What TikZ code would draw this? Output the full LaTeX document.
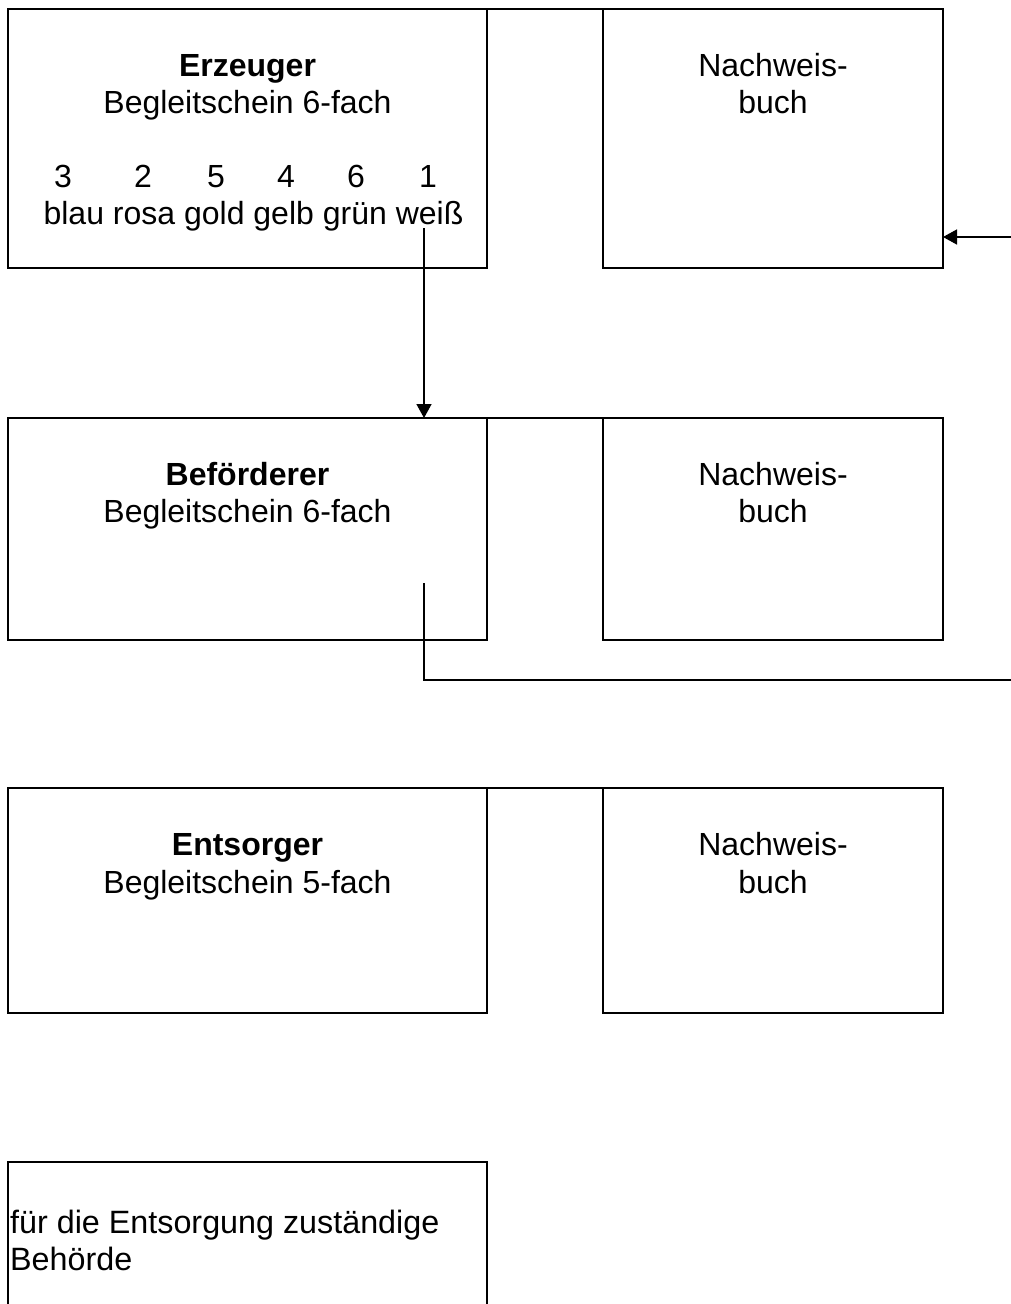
\documentclass[tikz,border=0pt]{standalone}
\usepackage{fontspec}
\setmainfont{Liberation Sans}
\usetikzlibrary{arrows.meta}
\begin{document}
\begin{tikzpicture}[x=1pt,y=-1pt,
  box/.style={draw,line width=2.4pt,rectangle,anchor=north west,inner sep=0pt,outer sep=0pt},
  wbox/.style={box,minimum width=479pt},
  nbox/.style={box,minimum width=340pt},
  frame/.style={line width=2.4pt},
  txt/.style={anchor=base,inner sep=0pt,font=\fontsize{32}{37}\selectfont},
  ttl/.style={anchor=base,inner sep=0pt,font=\fontsize{32}{37}\selectfont\bfseries},
  ltxt/.style={anchor=base west,inner sep=0pt,font=\fontsize{32.3}{37}\selectfont},
  conn/.style={line width=1.5pt},
  arr/.style={conn,-{Triangle[length=14pt,width=15pt]}}]
\useasboundingbox (0,0) rectangle (1011,1304);
% row 1
\node[wbox,minimum height=259pt] (erz) at (8,9) {};
\node[nbox,minimum height=259pt] (nb1) at (603,9) {};
\draw[frame] (erz.north east) -- (nb1.north west);
\node[ttl] (erzT) at (247.5,76) {Erzeuger};
\node[txt] (erzB) at (247.5,113) {Begleitschein 6-fach};
\node[txt] (n3) at (63,187) {3};
\node[txt] (n2) at (143,187) {2};
\node[txt] (n5) at (216,187) {5};
\node[txt] (n4) at (286,187) {4};
\node[txt] (n6) at (356,187) {6};
\node[txt] (n1) at (428,187) {1};
\node[txt] (farb) at (253.5,224) {blau rosa gold gelb grün weiß};
\node[txt] (nb1a) at (773,76) {Nachweis-};
\node[txt] (nb1b) at (773,113) {buch};
% row 2
\node[wbox,minimum height=222pt] (bef) at (8,418) {};
\node[nbox,minimum height=222pt] (nb2) at (603,418) {};
\draw[frame] (bef.north east) -- (nb2.north west);
\node[ttl] (befT) at (247.5,485) {Beförderer};
\node[txt] (befB) at (247.5,522) {Begleitschein 6-fach};
\node[txt] (nb2a) at (773,485) {Nachweis-};
\node[txt] (nb2b) at (773,522) {buch};
% row 3
\node[wbox,minimum height=225pt] (ent) at (8,788) {};
\node[nbox,minimum height=225pt] (nb3) at (603,788) {};
\draw[frame] (ent.north east) -- (nb3.north west);
\node[ttl] (entT) at (247.5,855) {Entsorger};
\node[txt] (entB) at (247.5,893) {Begleitschein 5-fach};
\node[txt] (nb3a) at (773,855) {Nachweis-};
\node[txt] (nb3b) at (773,893) {buch};
% row 4 (open at the bottom)
\node[inner sep=0pt,outer sep=0pt,anchor=north west,minimum width=479pt,minimum height=144pt] (beh) at (8,1162) {};
\coordinate (behBL) at (8,1308);
\coordinate (behBR) at (487,1308);
\draw[frame,line join=miter] (behBL) -- (beh.north west) -- (beh.north east) -- (behBR);
\node[ltxt] (behA) at (10,1233) {für die Entsorgung zuständige};
\node[ltxt] (behB) at (10,1270) {Behörde};
% connectors
\coordinate (a1) at (424,228);
\draw[arr] (a1) -- (a1 |- bef.north);
\coordinate (a2) at (1011,237);
\draw[arr] (a2) -- (nb1.east |- a2);
\coordinate (a3s) at (424,583);
\coordinate (a3k) at (424,680);
\coordinate (a3e) at (1011,680);
\draw[conn] (a3s) -- (a3k) -- (a3e);
\end{tikzpicture}
\end{document}
